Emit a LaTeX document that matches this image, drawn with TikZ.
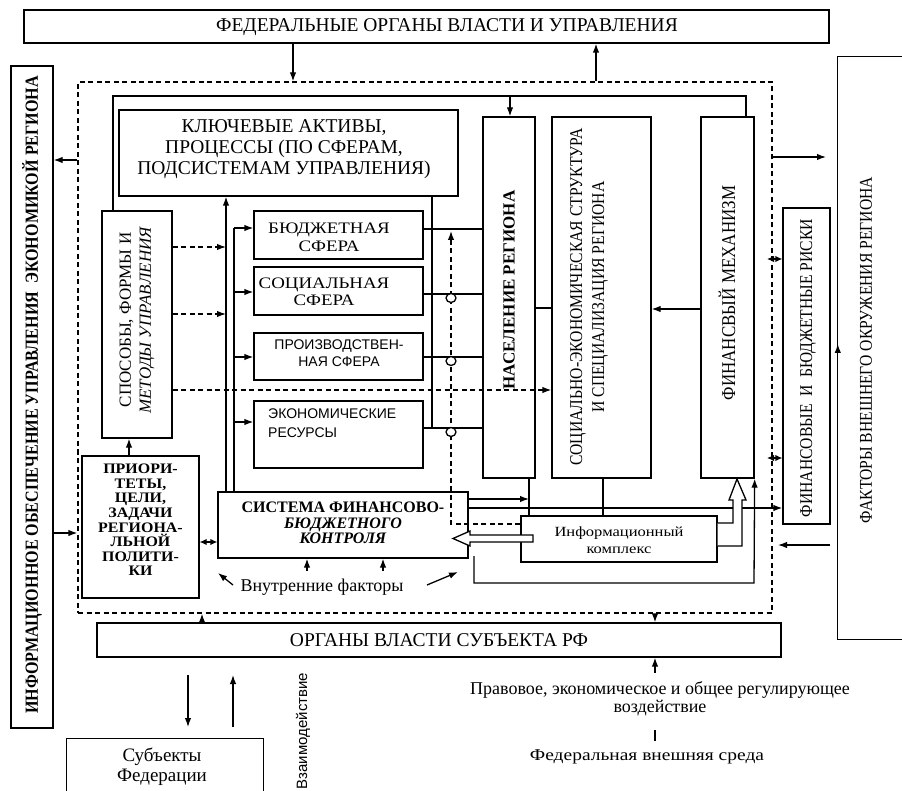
\documentclass[tikz,border=0pt]{standalone}
\usepackage{fontspec}
\setmainfont{Liberation Serif}
\newfontfamily\condf[FakeStretch=0.87]{Liberation Serif}
\newfontfamily\widef[FakeStretch=1.18]{Liberation Serif}
\newfontfamily\midf[FakeStretch=1.1]{Liberation Serif}
\newfontfamily\sansf{Liberation Sans}
\usetikzlibrary{arrows.meta}
\newcommand\fsz[2]{\fontsize{#1}{#2}\selectfont}
\newcommand\mkbox[6][boxst]{\node[#1, minimum width={(#5)-(#3)}, minimum height={(#6)-(#4)}] (#2) at ({((#3)+(#5))/2},{((#4)+(#6))/2}) {};}
\tikzset{
 ln/.style={line width=1.3pt},
 arr/.style={ln,-{Latex[length=9pt,width=6.5pt]}},
 dln/.style={ln,dash pattern=on 5pt off 3.5pt},
 darr/.style={dln,-{Latex[length=9pt,width=6.5pt]}},
 dbl/.style={ln,{Latex[length=7pt,width=6.5pt]}-{Latex[length=7pt,width=6.5pt]}},
 boxst/.style={draw,ln,rectangle,inner sep=0pt},
 framest/.style={draw,dln,rectangle,inner sep=0pt},
 ghost/.style={rectangle,inner sep=0pt},
 txt/.style={inner sep=0pt,align=center},
 hop/.style={ln,fill=white},
 hollow/.style={ln,fill=white,line join=miter},
}
\begin{document}
\begin{tikzpicture}[x=1pt,y=-1pt]
\useasboundingbox (0,0) rectangle (902,791);
% ---------- boxes ----------
\mkbox{fed}{24}{10}{829}{43}
\mkbox{info}{11}{66}{53}{728}
\mkbox[framest]{frame}{78}{82}{772}{613}
\mkbox{keys}{119}{110}{458}{196}
\mkbox{sposob}{102}{211}{172}{438}
\mkbox{prior}{82}{456}{199}{598}
\mkbox{sys}{218}{492}{468}{558}
\mkbox{budg}{254}{211}{423}{259}
\mkbox{soc}{254}{267}{423}{315}
\mkbox{prod}{254}{333}{423}{380}
\mkbox{econ}{254}{401}{423}{468}
\mkbox{pop}{483}{117}{535}{478}
\mkbox{sestr}{552}{117}{651}{478}
\mkbox{finm}{701}{117}{754}{478}
\mkbox{risk}{783}{208}{830}{524}
\mkbox{infc}{521}{516}{717}{562}
\mkbox{organ}{97}{623}{781}{657}
\mkbox[ghost]{fact}{838}{57}{902}{639}
\draw[ln] (fact.north east) -- (fact.north west) -- (fact.south west) -- (fact.south east);
\mkbox[ghost]{subj}{67}{739}{263}{791}
\draw[ln] (subj.south west) -- (subj.north west) -- (subj.north east) -- (subj.south east);
% ---------- free coordinates ----------
\coordinate (fa) at (826,157);
\coordinate (fb) at (830,545);
\coordinate (fc) at (778,545);
\coordinate (s1a) at (188,675);
\coordinate (s1b) at (188,727);
\coordinate (s2a) at (233,727);
\coordinate (s2b) at (233,675);
\coordinate (reg) at (655,673);
% ---------- outer connectors ----------
\draw[arr] (fed.south -| 293,0) -- (frame.north -| 293,0);
\draw[arr] (frame.north -| 596,0) -- (fed.south -| 596,0);
\draw[arr] (frame.west |- 0,160) -- (info.east |- 0,160);
\draw[arr] (info.east |- 0,533) -- (frame.west |- 0,533);
\draw[arr] (frame.east |- fa) -- (fa);
\draw[arr] (fb) -- (fc);
\draw[arr] (fact.west |- 0,358) -- (fact.west |- 0,344);
\draw[arr] (organ.north -| 202,0) -- (frame.south -| 202,0);
\draw[arr] (frame.south -| 655,0) -- (organ.north -| 655,0);
\draw[arr] (reg) -- (organ.south -| reg);
\draw[arr] (s1a) -- (s1b);
\draw[arr] (s2a) -- (s2b);
\draw[ln] (655,730) -- (655,741);
% ---------- inner connectors ----------
\draw[ln] (sposob.north -| 113,0) -- (113,96) -- (746,96) -- (finm.north -| 746,0);
\draw[arr] (510,96) -- (pop.north -| 510,0);
\draw[arr] (prior.north -| 129,0) -- (sposob.south -| 129,0);
\draw[dbl] (prior.east |- 0,542) -- (sys.west |- 0,542);
\draw[arr] (sys.north -| 226,0) -- (keys.south -| 226,0);
\draw[ln] (sys.north -| 234,0) -- (234,228);
\draw[arr] (234,228) -- (budg.west |- 0,228);
\draw[arr] (234,292) -- (soc.west |- 0,292);
\draw[arr] (234,357) -- (prod.west |- 0,357);
\draw[arr] (234,422) -- (econ.west |- 0,422);
\draw[darr] (sposob.east |- 0,247) -- (226,247);
\draw[darr] (sposob.east |- 0,314) -- (226,314);
\draw[darr] (sposob.east |- 0,390) -- (sestr.west |- 0,390);
\draw[ln] (keys.south -| 432,0) -- (432,428);
\draw[ln] (budg.east |- 0,229) -- (pop.west |- 0,229);
\draw[ln] (soc.east |- 0,294) -- (pop.west |- 0,294);
\draw[ln] (prod.east |- 0,357) -- (pop.west |- 0,357);
\draw[ln] (econ.east |- 0,428) -- (pop.west |- 0,428);
\draw[darr] (infc.west |- 0,524) -- (451,524) -- (451,231);
\draw[hop] (451,298) ellipse [x radius=5, y radius=4.5];
\draw[hop] (451,361) ellipse [x radius=5, y radius=4.5];
\draw[hop] (451,432) ellipse [x radius=5, y radius=4.5];
\draw[ln] (pop.east |- 0,308) -- (sestr.west |- 0,308);
\draw[arr] (finm.west |- 0,309) -- (sestr.east |- 0,309);
\draw[arr] (sys.east |- 0,499) -- (529,499);
\draw[arr] (sys.east |- 0,508) -- (risk.west |- 0,508);
\draw[ln] (pop.south -| 529,0) -- (infc.north -| 529,0);
\draw[ln] (sestr.south -| 603,0) -- (infc.north -| 603,0);
\draw[arr] (474,556) -- (474,583) -- (754,583) -- (finm.south east);
\draw[dbl] (767,259) -- (risk.west |- 0,259);
\draw[dbl] (767,458) -- (risk.west |- 0,458);
\draw[arr] (307,571) -- (sys.south -| 307,0);
\draw[arr] (383,571) -- (sys.south -| 383,0);
\draw[arr] (233,585) -- (218,573);
\draw[arr] (427,585) -- (458,572);
% hollow arrows
\draw[hollow] (533,535) -- (470,535) -- (470,531) -- (453,538.5) -- (470,546) -- (470,542) -- (533,542) -- cycle;
\draw[hollow] (infc.east |- 0,523) -- (733,523) -- (733,500) -- (729,500) -- (737,479) -- (746,500) -- (742,500) -- (742,546) -- (infc.east |- 0,546);
% ---------- texts ----------
\node[txt,font=\fsz{19.5}{22}] (tfed) at (447,27) {ФЕДЕРАЛЬНЫЕ ОРГАНЫ ВЛАСТИ И УПРАВЛЕНИЯ};
\node[txt,rotate=90,font=\condf\bfseries\fsz{18.5}{20}] (tinfo) at (32,395) {ИНФОРМАЦИОННОЕ ОБЕСПЕЧЕНИЕ УПРАВЛЕНИЯ\ \ ЭКОНОМИКОЙ РЕГИОНА};
\node[txt,font=\fsz{19.5}{21}] (tkeys) at (284,149) {КЛЮЧЕВЫЕ АКТИВЫ,\\ПРОЦЕССЫ (ПО СФЕРАМ,\\ПОДСИСТЕМАМ УПРАВЛЕНИЯ)};
\node[txt,rotate=90,font=\fsz{17}{20}] (tsposob) at (137,320) {СПОСОБЫ, ФОРМЫ И\\\textit{МЕТОДЫ УПРАВЛЕНИЯ}};
\node[txt,font=\midf\bfseries\fsz{14.5}{14.6}] (tprior) at (140.5,520) {ПРИОРИ-\\ТЕТЫ,\\ЦЕЛИ,\\ЗАДАЧИ\\РЕГИОНА-\\ЛЬНОЙ\\ПОЛИТИ-\\КИ};
\node[txt,font=\bfseries\fsz{16}{15.5}] (tsys) at (343,523) {СИСТЕМА ФИНАНСОВО-\\\textit{БЮДЖЕТНОГО}\\\textit{КОНТРОЛЯ}};
\node[txt,font=\widef\fsz{16}{18}] (tbudg) at (329,237) {БЮДЖЕТНАЯ\\СФЕРА};
\node[txt,font=\widef\fsz{16}{17}] (tsoc) at (324,292) {СОЦИАЛЬНАЯ\\СФЕРА};
\node[txt,font=\sansf\fsz{14}{17}] (tprod) at (339,353) {ПРОИЗВОДСТВЕН-\\НАЯ СФЕРА};
\node[txt,font=\sansf\fsz{14}{19},align=left,anchor=north west] (tecon) at (268,409) {ЭКОНОМИЧЕСКИЕ\\РЕСУРСЫ};
\node[txt,rotate=90,font=\bfseries\fsz{17}{20}] (tpop) at (509,290) {НАСЕЛЕНИЕ РЕГИОНА};
\node[txt,rotate=90,font=\condf\fsz{18}{22}] (tsestr) at (589,297) {СОЦИАЛЬНО-ЭКОНОМИЧЕСКАЯ СТРУКТУРА\\И СПЕЦИАЛИЗАЦИЯ РЕГИОНА};
\node[txt,rotate=90,font=\condf\fsz{19.5}{20}] (tfinm) at (727,293) {ФИНАНСВЫЙ МЕХАНИЗМ};
\node[txt,rotate=90,font=\condf\fsz{18}{20}] (trisk) at (808,368) {ФИНАНСОВЫЕ\ \ И\ \ БЮДЖЕТНЫЕ РИСКИ};
\node[txt,rotate=90,font=\condf\fsz{18}{20}] (tfact) at (866,350) {ФАКТОРЫ ВНЕШНЕГО ОКРУЖЕНИЯ РЕГИОНА};
\node[txt,font=\widef\fsz{14}{17}] (tinfc) at (619,540) {Информационный\\комплекс};
\node[txt,font=\fsz{18}{20}] (tvn) at (322,587) {Внутренние факторы};
\node[txt,font=\fsz{19.5}{22}] (torgan) at (439,640) {ОРГАНЫ ВЛАСТИ СУБЪЕКТА РФ};
\node[txt,font=\fsz{19}{20}] (tsubj) at (162,767) {Субъекты\\Федерации};
\node[txt,rotate=90,font=\sansf\fsz{15}{17}] (tvz) at (303,731) {Взаимодействие};
\node[txt,font=\fsz{18}{18}] (tprav) at (660,699) {Правовое, экономическое и общее регулирующее\\воздействие};
\node[txt,font=\widef\fsz{16.5}{18}] (tfedv) at (647,757) {Федеральная внешняя среда};
\end{tikzpicture}
\end{document}
